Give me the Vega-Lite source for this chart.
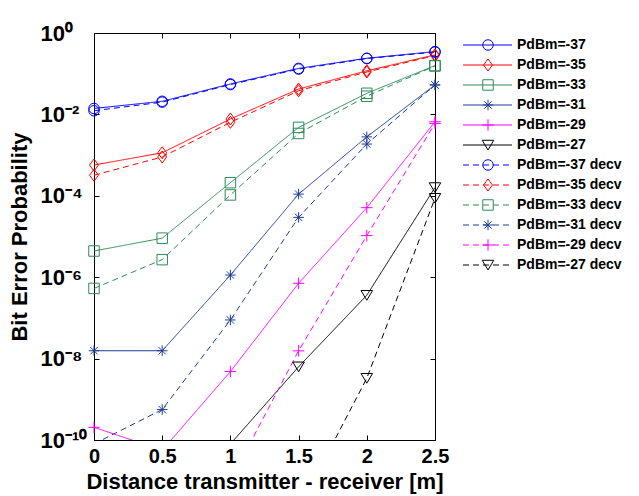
{
  "$schema": "https://vega.github.io/schema/vega-lite/v6.json",
  "padding": {"left": 8, "top": 22, "right": 2, "bottom": 2},
  "background": "white",
  "config": {
    "view": {"stroke": null},
    "font": "Liberation Sans",
    "axis": {"grid": false, "domainColor": "black", "tickColor": "black", "domainWidth": 1, "tickWidth": 1,
      "labelFont": "Liberation Sans", "labelFontWeight": "bold", "labelColor": "black",
      "titleFont": "Liberation Sans", "titleFontWeight": "bold", "titleColor": "black"}
  },
  "datasets": {
    "curves": [
      {"s": "PdBm=-37", "x": 0, "p": 0.014}, {"s": "PdBm=-37", "x": 0.5, "p": 0.021}, {"s": "PdBm=-37", "x": 1, "p": 0.056},
      {"s": "PdBm=-37", "x": 1.5, "p": 0.135}, {"s": "PdBm=-37", "x": 2, "p": 0.24}, {"s": "PdBm=-37", "x": 2.5, "p": 0.35},
      {"s": "PdBm=-35", "x": 0, "p": 0.00057}, {"s": "PdBm=-35", "x": 0.5, "p": 0.00114}, {"s": "PdBm=-35", "x": 1, "p": 0.0077},
      {"s": "PdBm=-35", "x": 1.5, "p": 0.042}, {"s": "PdBm=-35", "x": 2, "p": 0.118}, {"s": "PdBm=-35", "x": 2.5, "p": 0.29},
      {"s": "PdBm=-33", "x": 0, "p": 4.4e-6}, {"s": "PdBm=-33", "x": 0.5, "p": 9.1e-6}, {"s": "PdBm=-33", "x": 1, "p": 0.00021},
      {"s": "PdBm=-33", "x": 1.5, "p": 0.0048}, {"s": "PdBm=-33", "x": 2, "p": 0.033}, {"s": "PdBm=-33", "x": 2.5, "p": 0.158},
      {"s": "PdBm=-31", "x": 0, "p": 1.56e-8}, {"s": "PdBm=-31", "x": 0.5, "p": 1.56e-8}, {"s": "PdBm=-31", "x": 1, "p": 1.13e-6},
      {"s": "PdBm=-31", "x": 1.5, "p": 0.00011}, {"s": "PdBm=-31", "x": 2, "p": 0.0028}, {"s": "PdBm=-31", "x": 2.5, "p": 0.053},
      {"s": "PdBm=-29", "x": 0, "p": 2.05e-10}, {"s": "PdBm=-29", "x": 0.5, "p": 5.6e-11}, {"s": "PdBm=-29", "x": 1, "p": 4.8e-9},
      {"s": "PdBm=-29", "x": 1.5, "p": 7.1e-7}, {"s": "PdBm=-29", "x": 2, "p": 5.1e-5}, {"s": "PdBm=-29", "x": 2.5, "p": 0.0066},
      {"s": "PdBm=-27", "x": 1, "p": 8e-11}, {"s": "PdBm=-27", "x": 1.5, "p": 6.3e-9},
      {"s": "PdBm=-27", "x": 2, "p": 3.6e-7}, {"s": "PdBm=-27", "x": 2.5, "p": 0.00016},
      {"s": "PdBm=-37 decv", "x": 0, "p": 0.0123}, {"s": "PdBm=-37 decv", "x": 0.5, "p": 0.02}, {"s": "PdBm=-37 decv", "x": 1, "p": 0.054},
      {"s": "PdBm=-37 decv", "x": 1.5, "p": 0.13}, {"s": "PdBm=-37 decv", "x": 2, "p": 0.235}, {"s": "PdBm=-37 decv", "x": 2.5, "p": 0.34},
      {"s": "PdBm=-35 decv", "x": 0, "p": 0.00032}, {"s": "PdBm=-35 decv", "x": 0.5, "p": 0.0009}, {"s": "PdBm=-35 decv", "x": 1, "p": 0.0064},
      {"s": "PdBm=-35 decv", "x": 1.5, "p": 0.038}, {"s": "PdBm=-35 decv", "x": 2, "p": 0.11}, {"s": "PdBm=-35 decv", "x": 2.5, "p": 0.28},
      {"s": "PdBm=-33 decv", "x": 0, "p": 5.3e-7}, {"s": "PdBm=-33 decv", "x": 0.5, "p": 2.7e-6}, {"s": "PdBm=-33 decv", "x": 1, "p": 0.000105},
      {"s": "PdBm=-33 decv", "x": 1.5, "p": 0.0034}, {"s": "PdBm=-33 decv", "x": 2, "p": 0.028}, {"s": "PdBm=-33 decv", "x": 2.5, "p": 0.155},
      {"s": "PdBm=-31 decv", "x": 0, "p": 8e-11}, {"s": "PdBm=-31 decv", "x": 0.5, "p": 5.6e-10}, {"s": "PdBm=-31 decv", "x": 1, "p": 8.9e-8},
      {"s": "PdBm=-31 decv", "x": 1.5, "p": 2.95e-5}, {"s": "PdBm=-31 decv", "x": 2, "p": 0.00187}, {"s": "PdBm=-31 decv", "x": 2.5, "p": 0.053},
      {"s": "PdBm=-29 decv", "x": 1, "p": 1e-11}, {"s": "PdBm=-29 decv", "x": 1.5, "p": 1.55e-8},
      {"s": "PdBm=-29 decv", "x": 2, "p": 1.05e-5}, {"s": "PdBm=-29 decv", "x": 2.5, "p": 0.006},
      {"s": "PdBm=-27 decv", "x": 1.5, "p": 2e-12}, {"s": "PdBm=-27 decv", "x": 2, "p": 3.3e-9}, {"s": "PdBm=-27 decv", "x": 2.5, "p": 8.7e-5}
    ]
  },
  "hconcat": [
    {
      "width": 341,
      "height": 407,
      "data": {"name": "curves"},
      "layer": [
        {
          "mark": {"type": "line", "clip": true, "strokeWidth": 1},
          "encoding": {
            "x": {"field": "x", "type": "quantitative",
              "scale": {"domain": [0, 2.5], "nice": false, "zero": false},
              "axis": {"orient": "bottom", "values": [0, 0.5, 1, 1.5, 2, 2.5], "format": "~g", "tickSize": -5,
                "labelPadding": 11, "labelFontSize": 20, "labelFlush": false,
                "title": "Distance transmitter - receiver [m]", "titleFontSize": 22, "titlePadding": 5}},
            "y": {"field": "p", "type": "quantitative",
              "scale": {"type": "log", "domain": [1e-10, 1], "nice": false},
              "axis": {"orient": "left", "values": [1e-10, 1e-8, 1e-6, 1e-4, 1e-2, 1], "tickSize": -5,
                "labelExpr": "datum.value > 0.5 ? '10⁰' : datum.value > 0.005 ? '10⁻²' : datum.value > 0.00005 ? '10⁻⁴' : datum.value > 0.0000005 ? '10⁻⁶' : datum.value > 0.000000005 ? '10⁻⁸' : '10⁻¹⁰'",
                "labelAlign": "left", "labelBaseline": "middle", "labelPadding": 59, "labelFontSize": 22, "labelOverlap": false, "labelFlush": false,
                "title": "Bit Error Probability", "titleFontSize": 22, "titlePadding": 9}},
            "color": {"field": "s", "type": "nominal", "legend": null,
              "scale": {"domain": ["PdBm=-37","PdBm=-35","PdBm=-33","PdBm=-31","PdBm=-29","PdBm=-27","PdBm=-37 decv","PdBm=-35 decv","PdBm=-33 decv","PdBm=-31 decv","PdBm=-29 decv","PdBm=-27 decv"],
                "range": ["#0000FF","#FF0000","#2E8B57","#1F3C96","#FF00FF","#000000","#0000FF","#FF0000","#2E8B57","#1F3C96","#FF00FF","#000000"]}},
            "strokeDash": {"field": "s", "type": "nominal", "legend": null,
              "scale": {"domain": ["PdBm=-37","PdBm=-35","PdBm=-33","PdBm=-31","PdBm=-29","PdBm=-27","PdBm=-37 decv","PdBm=-35 decv","PdBm=-33 decv","PdBm=-31 decv","PdBm=-29 decv","PdBm=-27 decv"],
                "range": [[1,0],[1,0],[1,0],[1,0],[1,0],[1,0],[6,4],[6,4],[6,4],[6,4],[6,4],[6,4]]}}
          }
        },
        {
          "transform": [{"filter": "datum.p >= 1e-10"}],
          "mark": {"type": "point", "filled": false, "strokeWidth": 1, "size": 110, "opacity": 1},
          "encoding": {
            "x": {"field": "x", "type": "quantitative",
              "axis": {"orient": "top", "values": [0, 0.5, 1, 1.5, 2, 2.5], "labels": false, "tickSize": -5, "title": null}},
            "y": {"field": "p", "type": "quantitative",
              "axis": {"orient": "right", "values": [1e-10, 1e-8, 1e-6, 1e-4, 1e-2, 1], "labels": false, "tickSize": -5, "title": null}},
            "color": {"field": "s", "type": "nominal", "legend": null},
            "shape": {"field": "s", "type": "nominal", "legend": null,
              "scale": {"domain": ["PdBm=-37","PdBm=-35","PdBm=-33","PdBm=-31","PdBm=-29","PdBm=-27","PdBm=-37 decv","PdBm=-35 decv","PdBm=-33 decv","PdBm=-31 decv","PdBm=-29 decv","PdBm=-27 decv"],
                "range": ["circle","M0,-1.15L0.85,0L0,1.15L-0.85,0Z","square","M0,-1L0,1M-1,0L1,0M-0.7,-0.7L0.7,0.7M-0.7,0.7L0.7,-0.7","M-1.1,0L1.1,0M0,-1.1L0,1.1","M-1.1,-0.9L1.1,-0.9L0,0.95Z",
                  "circle","M0,-1.15L0.85,0L0,1.15L-0.85,0Z","square","M0,-1L0,1M-1,0L1,0M-0.7,-0.7L0.7,0.7M-0.7,0.7L0.7,-0.7","M-1.1,0L1.1,0M0,-1.1L0,1.1","M-1.1,-0.9L1.1,-0.9L0,0.95Z"]}}
          }
        }
      ],
      "resolve": {"axis": {"x": "independent", "y": "independent"}}
    },
    {
      "width": 160,
      "height": 244,
      "data": {"name": "curves"},
      "transform": [{"aggregate": [{"op": "count", "as": "n"}], "groupby": ["s"]}],
      "encoding": {
        "y": {"field": "s", "type": "nominal", "axis": null,
          "scale": {"type": "point", "padding": 0.6,
            "domain": ["PdBm=-37","PdBm=-35","PdBm=-33","PdBm=-31","PdBm=-29","PdBm=-27","PdBm=-37 decv","PdBm=-35 decv","PdBm=-33 decv","PdBm=-31 decv","PdBm=-29 decv","PdBm=-27 decv"]}}
      },
      "layer": [
        {
          "mark": {"type": "rule", "strokeWidth": 1},
          "encoding": {
            "x": {"datum": 0, "type": "quantitative", "scale": {"domain": [0, 160], "nice": false, "zero": false}, "axis": null},
            "x2": {"datum": 49},
            "color": {"field": "s", "type": "nominal", "legend": null},
            "strokeDash": {"field": "s", "type": "nominal", "legend": null}
          }
        },
        {
          "mark": {"type": "point", "filled": false, "strokeWidth": 1, "size": 110, "opacity": 1},
          "encoding": {
            "x": {"datum": 25, "type": "quantitative"},
            "color": {"field": "s", "type": "nominal", "legend": null},
            "shape": {"field": "s", "type": "nominal", "legend": null}
          }
        },
        {
          "mark": {"type": "text", "align": "left", "baseline": "middle", "font": "Liberation Sans", "fontWeight": "bold", "fontSize": 14, "color": "black"},
          "encoding": {
            "x": {"datum": 54, "type": "quantitative"},
            "text": {"field": "s", "type": "nominal"}
          }
        }
      ]
    }
  ],
  "spacing": 13
}
